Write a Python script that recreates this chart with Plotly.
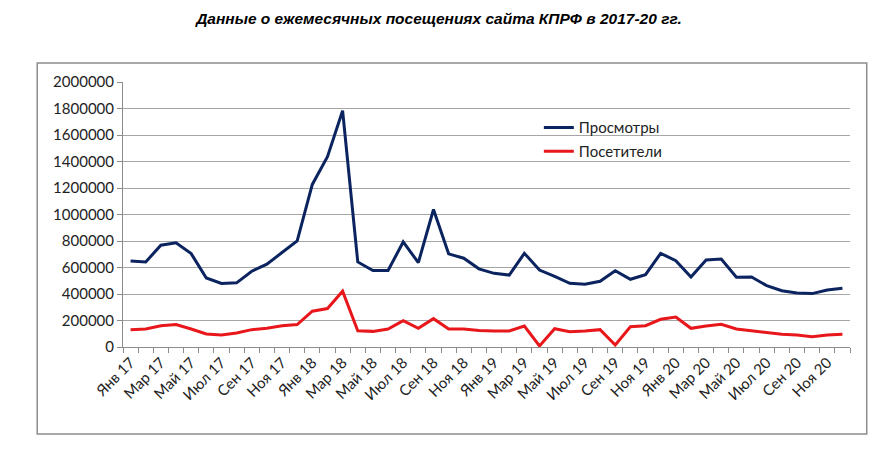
import plotly.graph_objects as go

months = ["Янв", "Фев", "Мар", "Апр", "Май", "Июн",
          "Июл", "Авг", "Сен", "Окт", "Ноя", "Дек"]
years = ["17", "18", "19", "20"]
labels = [m + " " + y for y in years for m in months]

views = [650000, 642000, 768000, 786000, 705000, 521000,
         479000, 484000, 572000, 625000, 713000, 801000,
         1227000, 1436000, 1783000, 642000, 577000, 577000,
         793000, 637000, 1038000, 703000, 670000, 590000,
         556000, 543000, 707000, 581000, 533000, 481000,
         473000, 496000, 576000, 511000, 546000, 707000,
         652000, 528000, 657000, 664000, 526000, 528000,
         463000, 425000, 408000, 403000, 430000, 443000]

visitors = [131000, 136000, 161000, 169000, 136000, 98000,
            91000, 106000, 131000, 141000, 161000, 169000,
            270000, 290000, 421000, 123000, 118000, 136000,
            199000, 141000, 214000, 136000, 136000, 124000,
            121000, 121000, 158000, 8000, 138000, 116000,
            121000, 131000, 15000, 153000, 161000, 209000,
            226000, 141000, 158000, 171000, 136000, 123000,
            108000, 96000, 91000, 78000, 91000, 96000]

x = list(range(len(labels)))
font = "Lato, 'Open Sans', sans-serif"

fig = go.Figure()
fig.add_trace(go.Scatter(x=x, y=views, mode="lines", name="Просмотры",
                         line=dict(color="#0b2460", width=3),
                         legend="legend", showlegend=True))
fig.add_trace(go.Scatter(x=x, y=visitors, mode="lines", name="Посетители",
                         line=dict(color="#e8171b", width=3),
                         legend="legend2", showlegend=True))

fig.update_xaxes(
    range=[-0.5, len(labels) - 0.5],
    tickvals=x[::2], ticktext=labels[::2], tickangle=-45,
    ticks="", showgrid=False, zeroline=False,
    showline=True, linecolor="#8c8c8c", linewidth=1,
    minor=dict(tick0=-0.5, dtick=1, ticks="outside", ticklen=5,
               tickcolor="#8c8c8c", showgrid=False),
    tickfont=dict(family=font, size=15, color="#222"),
)
fig.update_yaxes(
    range=[0, 2000000], dtick=200000, tickformat="d",
    showgrid=True, gridcolor="#a6a6a6", gridwidth=1,
    zeroline=False, showline=True, linecolor="#8c8c8c", linewidth=1,
    ticks="outside", ticklen=5, tickcolor="#8c8c8c",
    tickfont=dict(family=font, size=15, color="#222"),
)

# grey frame around the chart area
fig.add_shape(type="rect", xref="paper", yref="paper",
              x0=-0.118, x1=1.023, y0=-0.328, y1=1.072,
              line=dict(color="#8c8c8c", width=1.5))

legend_style = dict(xanchor="left", yanchor="top", bgcolor="rgba(0,0,0,0)",
                    font=dict(family=font, size=15, color="#222"))

fig.update_layout(
    width=894, height=450,
    showlegend=True,
    margin=dict(l=123, r=44, t=82, b=103),
    paper_bgcolor="white", plot_bgcolor="white",
    title=dict(text="<b><i>Данные о ежемесячных посещениях сайта КПРФ в 2017-20 гг.</i></b>",
               x=0.491, xanchor="center", y=0.958, yanchor="middle",
               font=dict(family="'Liberation Sans', Arial, sans-serif", size=15.5, color="black")),
    legend=dict(x=0.572, y=0.89, visible=True, **legend_style),
    legend2=dict(x=0.572, y=0.80, visible=True, **legend_style),
)

fig.write_html("out.html", config={"displayModeBar": False},
               post_script="document.body.style.margin='0';")
